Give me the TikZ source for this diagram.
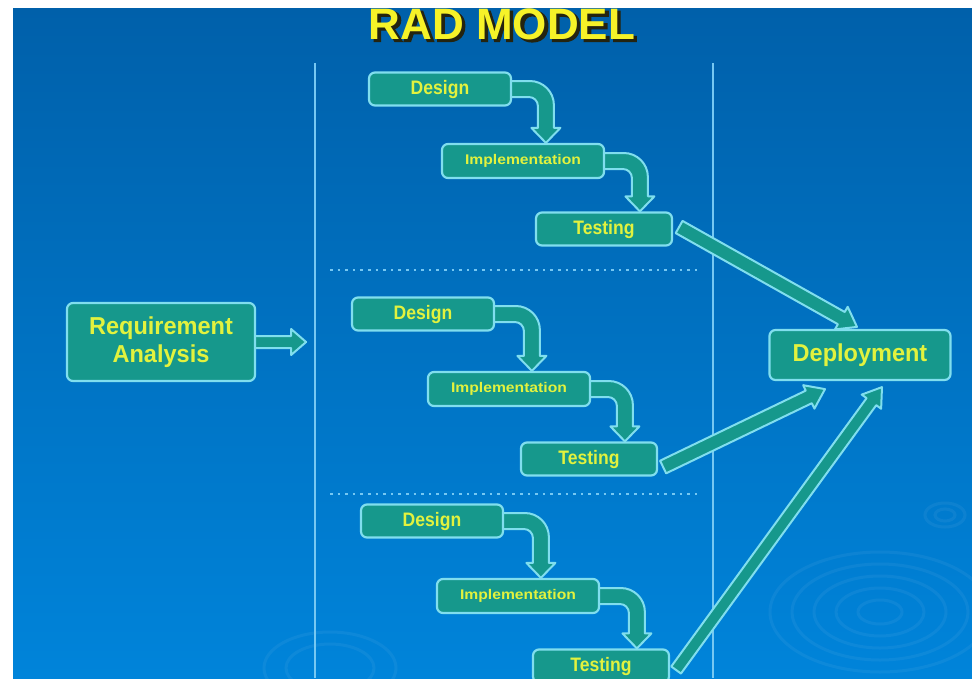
\documentclass[tikz,border=0pt]{standalone}
\usepackage{fontspec}
\usepackage{graphicx}
\setmainfont{Liberation Sans}
\newfontfamily\titleshade{Liberation Sans Bold}[FakeBold=3]
\usetikzlibrary{calc}

\definecolor{bgtop}{RGB}{0,96,170}
\definecolor{bgbot}{RGB}{0,132,218}
\definecolor{boxfill}{RGB}{22,152,140}
\definecolor{edge}{RGB}{128,222,238}
\definecolor{label}{RGB}{226,242,62}
\definecolor{titlefill}{RGB}{246,242,40}
\definecolor{titleedge}{RGB}{36,36,16}
\definecolor{rule}{RGB}{118,200,242}

\pgfdeclarelayer{back}
\pgfdeclarelayer{mid}
\pgfsetlayers{back,mid,main}

\tikzset{
  band/.style={fill=boxfill, draw=edge, line width=2pt, line join=round},
  stagebox/.style={draw=edge, line width=2.2pt, fill=boxfill, rounded corners=6pt,
    text=label, inner sep=0pt, align=center},
  designbox/.style={stagebox, minimum width=142pt, minimum height=33pt,
    font=\fontsize{19.5}{21}\selectfont\bfseries},
  implbox/.style={stagebox, minimum width=162pt, minimum height=34pt,
    font=\fontsize{14}{16}\selectfont\bfseries},
  testbox/.style={stagebox, minimum width=136pt, minimum height=33pt,
    font=\fontsize{19.5}{21}\selectfont\bfseries},
  bigbox/.style={stagebox, font=\fontsize{24.5}{28}\selectfont\bfseries},
  titlestyle/.style={anchor=base, inner sep=0pt, font=\fontsize{44}{44}\selectfont\bfseries},
  divider/.style={draw=rule, line width=1.8pt},
  dotrule/.style={draw=rule, line width=2.6pt, dash pattern=on 2.6pt off 5pt}
}

% horizontally squeezed or widened label text
\newcommand{\cond}[2]{\scalebox{#1}[1]{#2}}

% bent band arrow: from the east side of #1 down onto the top of #2
\newcommand{\bendarrow}[2]{%
  \path[band] let \p1=(#1.east), \p2=(#2.north), \p3=($(#2.north west)+(105,0)$) in
    (\x1-4pt,\y1+8pt) -- (\x3-16pt,\y1+8pt)
    .. controls (\x3-2.8pt,\y1+8pt) and (\x3+8pt,\y1-2.8pt) .. (\x3+8pt,\y1-16pt)
    -- (\x3+8pt,\y2+15pt) -- (\x3+14.5pt,\y2+15pt) -- (\x3,\y2) -- (\x3-14.5pt,\y2+15pt)
    -- (\x3-8pt,\y2+15pt) -- (\x3-8pt,\y1-17pt)
    .. controls (\x3-8pt,\y1-12pt) and (\x3-12pt,\y1-8pt) .. (\x3-17pt,\y1-8pt)
    -- (\x1-4pt,\y1-8pt) -- cycle;}

% straight band arrow: from, to, half band width, half head width, head length
\newcommand{\straightband}[5]{%
  \coordinate (hb) at ($(#2)!#5!(#1)$);
  \path[band] ($(#1)!#3!90:(#2)$) -- ($(hb)!#3!90:(#2)$) -- ($(hb)!#4!90:(#2)$) -- (#2)
    -- ($(hb)!#4!-90:(#2)$) -- ($(hb)!#3!-90:(#2)$) -- ($(#1)!#3!-90:(#2)$) -- cycle;}

\begin{document}
\begin{tikzpicture}[x=1pt, y=1pt]
\useasboundingbox (0,0) rectangle (972,-678);

% stage boxes
\node[bigbox, minimum width=188pt, minimum height=78pt] (ra) at (161,-342)
  {\cond{0.96}{Requirement}\\\cond{0.96}{Analysis}};
\node[bigbox, minimum width=181pt, minimum height=50pt] (dep) at (860,-355)
  {\cond{0.96}{Deployment}};

\node[designbox] (d1) at (440,-89)  {\cond{0.9}{Design}};
\node[implbox]   (i1) at (523,-161) {\cond{1.12}{Implementation}};
\node[testbox]   (t1) at (604,-229) {\cond{0.9}{Testing}};

\node[designbox] (d2) at (423,-314) {\cond{0.9}{Design}};
\node[implbox]   (i2) at (509,-389) {\cond{1.12}{Implementation}};
\node[testbox]   (t2) at (589,-459) {\cond{0.9}{Testing}};

\node[designbox] (d3) at (432,-521) {\cond{0.9}{Design}};
\node[implbox]   (i3) at (518,-596) {\cond{1.12}{Implementation}};
\node[testbox]   (t3) at (601,-666) {\cond{0.9}{Testing}};

% backdrop
\begin{pgfonlayer}{back}
  \fill[white] (0,0) rectangle (972,-678);
  \shade[top color=bgtop, bottom color=bgbot] (13,-8) rectangle (972,-678);
  \begin{scope}[draw=white, opacity=0.05, line width=3pt]
    \foreach \r in {1,...,5} \draw (880,-612) ellipse ({\r*22} and {\r*12});
    \foreach \r in {1,2} \draw (945,-515) ellipse ({\r*10} and {\r*6});
    \foreach \r in {2,3} \draw (330,-668) ellipse ({\r*22} and {\r*12});
  \end{scope}
  \draw[divider] (315,-63) -- (315,-678);
  \draw[divider] (713,-63) -- (713,-678);
  \draw[dotrule] (330,-270) -- (698,-270);
  \draw[dotrule] (330,-494) -- (698,-494);
\end{pgfonlayer}

% connectors
\begin{pgfonlayer}{mid}
  \coordinate (rastart) at ($(ra.east)+(-3,0)$);
  \coordinate (raend) at ($(ra.east)+(50,0)$);
  \straightband{rastart}{raend}{6pt}{13pt}{15pt}

  \bendarrow{d1}{i1}
  \bendarrow{i1}{t1}
  \bendarrow{d2}{i2}
  \bendarrow{i2}{t2}
  \bendarrow{d3}{i3}
  \bendarrow{i3}{t3}

  \coordinate (s1) at ($(t1.east)+(6,2)$);
  \coordinate (e1) at ($(dep.north)+(-3,2)$);
  \coordinate (s2) at ($(t2.east)+(5,-8)$);
  \coordinate (e2) at ($(dep.south)+(-35,-8)$);
  \coordinate (s3) at ($(t3.east)+(6,-4)$);
  \coordinate (e3) at ($(dep.south)+(22,-6)$);
  \straightband{s1}{e1}{7pt}{13pt}{18pt}
  \straightband{s2}{e2}{7pt}{13pt}{18pt}
  \straightband{s3}{e3}{6pt}{12pt}{18pt}
\end{pgfonlayer}

% heading with its dark shadow
\node[titlestyle, text=titleedge, font=\fontsize{44}{44}\selectfont\titleshade] (titleshadow)
  at (504.5,-41.5) {RAD MODEL};
\node[titlestyle, text=titlefill] (title) at (502,-39) {RAD MODEL};

% page margin along the top and left edges
\fill[white] (0,0) rectangle (972,-8);
\fill[white] (0,0) rectangle (13,-678);
\end{tikzpicture}
\end{document}
